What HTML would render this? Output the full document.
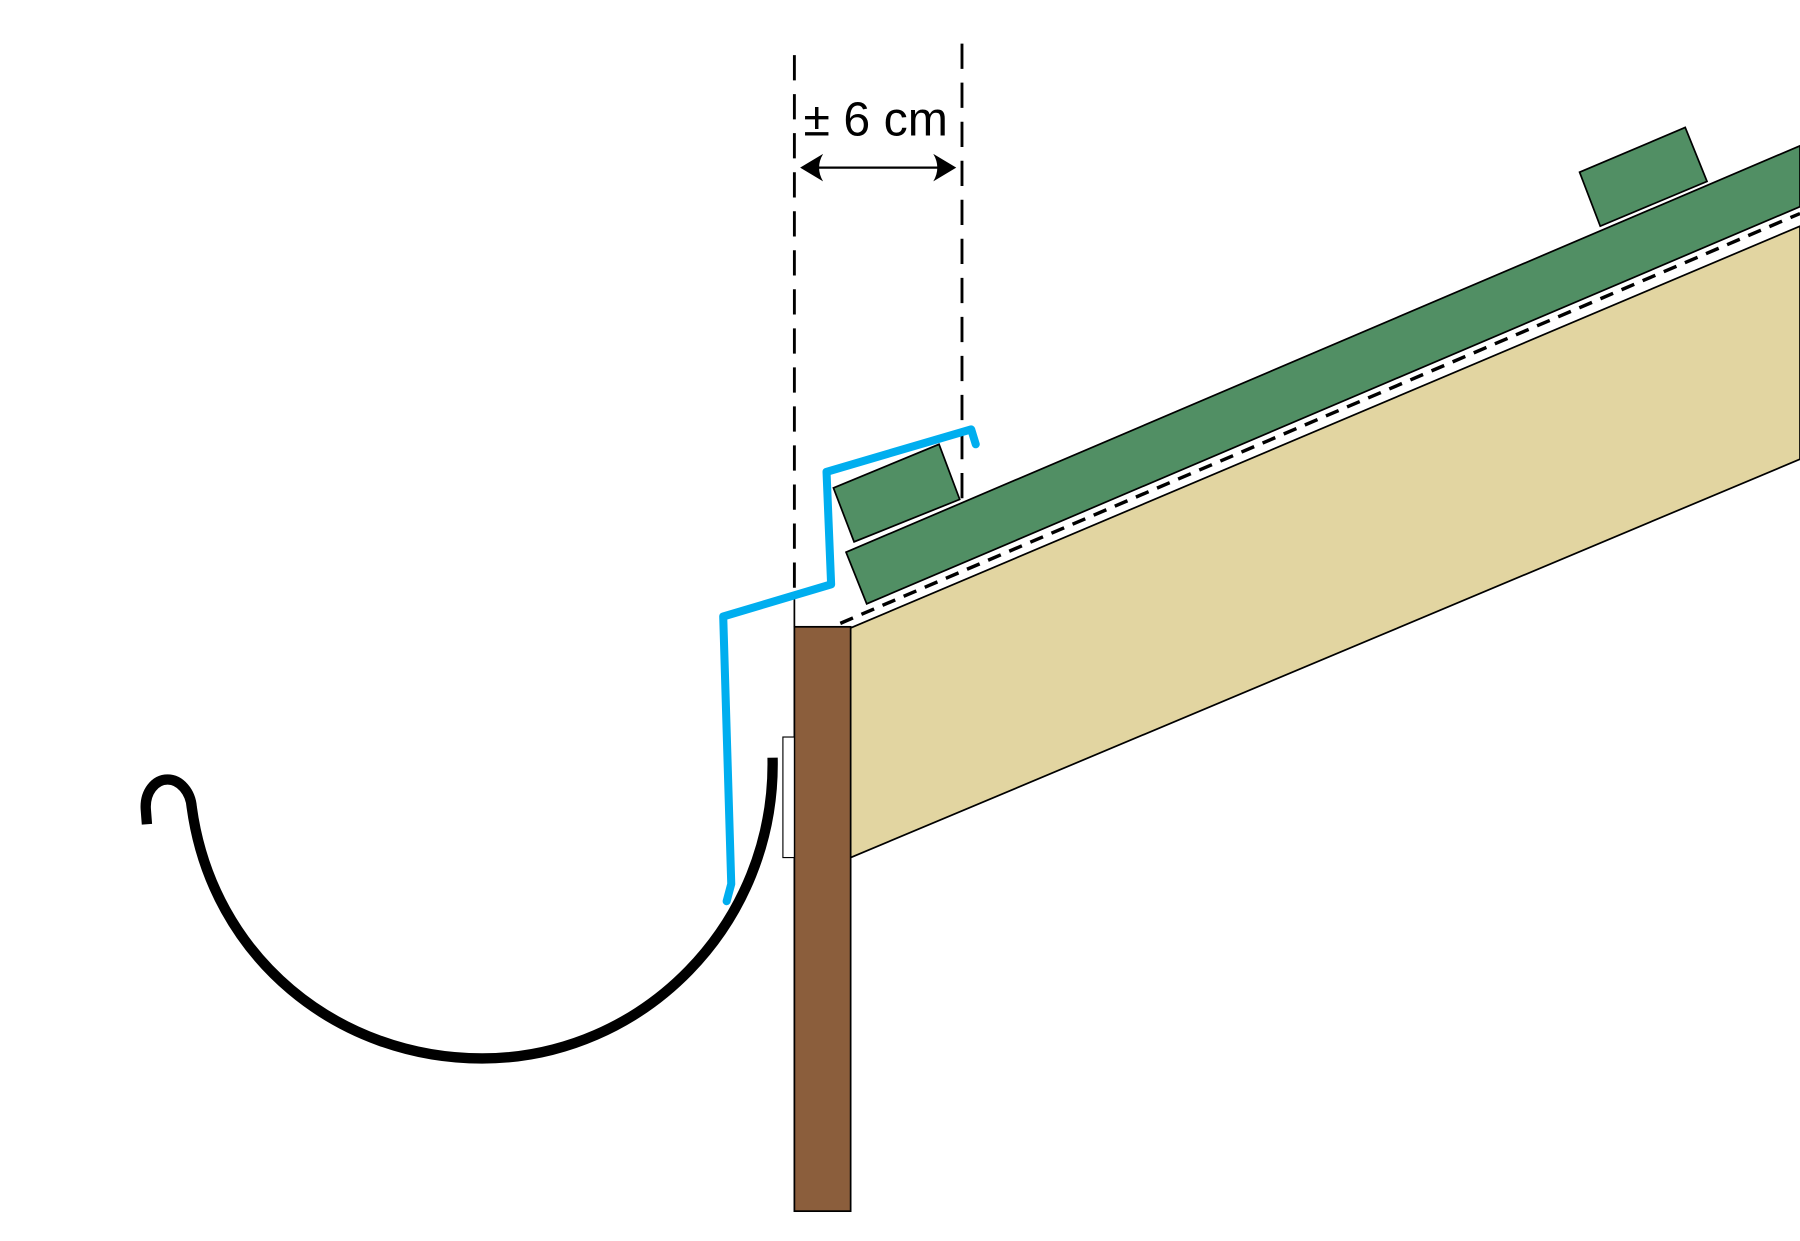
<!DOCTYPE html>
<html><head><meta charset="utf-8"><style>html,body{margin:0;padding:0;background:#fff}svg{display:block}</style></head>
<body>
<svg width="1800" height="1241" viewBox="0 0 1568 1081" preserveAspectRatio="none" xmlns="http://www.w3.org/2000/svg">
<rect width="1568" height="1081" fill="#fff"/>
<polygon points="741,547 1568,197 1568,400 741,747" fill="#E2D5A1" stroke="#000" stroke-width="1.5"/>
<line x1="732" y1="543" x2="1568" y2="186" stroke="#000" stroke-width="3" stroke-dasharray="12,8"/>
<polygon points="737,481 1568,127 1568,180 755,526" fill="#518F64" stroke="#000" stroke-width="1.5"/>
<polygon points="726,425 818,387 836,435 744,472" fill="#518F64" stroke="#000" stroke-width="1.5"/>
<polygon points="1376,150 1468,111 1487,158 1394,197" fill="#518F64" stroke="#000" stroke-width="1.5"/>
<rect x="692" y="546" width="49" height="509" fill="#8B5E3C" stroke="#000" stroke-width="1.5"/>
<rect x="682" y="642" width="10" height="105" fill="#fff" stroke="#000" stroke-width="1"/>
<line x1="692" y1="522" x2="692" y2="546" stroke="#000" stroke-width="1.5"/>
<line x1="692" y1="48" x2="692" y2="522" stroke="#000" stroke-width="2.5" stroke-dasharray="22,12"/>
<line x1="838" y1="38" x2="838" y2="436" stroke="#000" stroke-width="2.5" stroke-dasharray="22,12"/>
<line x1="705" y1="146" x2="825" y2="146" stroke="#000" stroke-width="2"/>
<path d="M697,146 L717,134 Q710,146 717,158 Z" fill="#000"/>
<path d="M833,146 L813,134 Q820,146 813,158 Z" fill="#000"/>
<text x="700" y="118" font-family="Liberation Sans, sans-serif" font-size="42" fill="#000">± 6 cm</text>
<path d="M128,718 L127,705 C126,690 135,679 146,679 C157,679 166,690 167,703 C185,835 295,922 420,922 C560,922 676,805 673,660" fill="none" stroke="#000" stroke-width="9"/>
<polyline points="633,785 637,770 630,537 724,509 720,411 846,374 850,387" fill="none" stroke="#00AEEF" stroke-width="7" stroke-linejoin="round" stroke-linecap="round"/>
</svg>
</body></html>
